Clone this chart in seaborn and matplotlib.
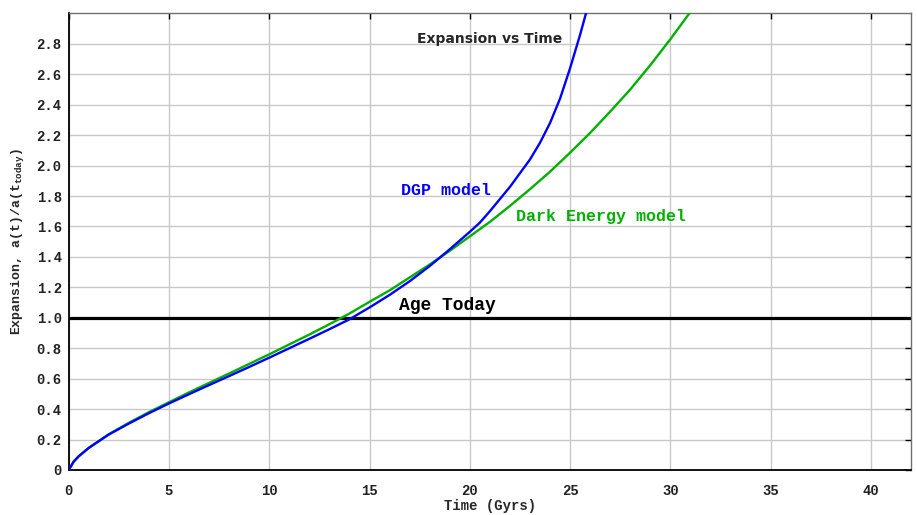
import matplotlib
matplotlib.use("Agg")
import matplotlib.pyplot as plt
import seaborn as sns
import pandas as pd

# values
t_dgp = [0, 0.25, 0.5, 1, 2, 3, 4, 5, 6, 7, 8, 9, 10, 11, 12, 13, 14, 15, 16,
         17, 18, 19, 20, 20.5, 21, 21.5, 22, 22.5, 23, 23.5, 24, 24.5, 25,
         25.5, 26]
a_dgp = [0, 0.055, 0.09, 0.145, 0.233, 0.305, 0.373, 0.437, 0.498, 0.558,
         0.617, 0.677, 0.738, 0.80, 0.862, 0.925, 0.99, 1.068, 1.15, 1.24,
         1.34, 1.45, 1.565, 1.625, 1.70, 1.78, 1.86, 1.95, 2.04, 2.15, 2.28,
         2.44, 2.64, 2.86, 3.1]

t_de = [0, 0.25, 0.5, 1, 2, 3, 4, 5, 6, 7, 8, 9, 10, 11, 12, 13, 14, 15, 16,
        17, 18, 19, 20, 21, 22, 23, 24, 25, 26, 27, 28, 29, 30, 31]
a_de = [0, 0.055, 0.09, 0.145, 0.235, 0.31, 0.38, 0.445, 0.51, 0.572, 0.634,
        0.697, 0.76, 0.825, 0.89, 0.958, 1.028, 1.105, 1.18, 1.265, 1.35,
        1.44, 1.535, 1.63, 1.735, 1.845, 1.96, 2.085, 2.215, 2.355, 2.50,
        2.66, 2.83, 3.01]

age_today = 1.0

x_ticks = [0, 5, 10, 15, 20, 25, 30, 35, 40]
y_ticks = [0, 0.2, 0.4, 0.6, 0.8, 1.0, 1.2, 1.4, 1.6, 1.8, 2.0, 2.2, 2.4, 2.6, 2.8]
y_tick_labels = ["0", "0.2", "0.4", "0.6", "0.8", "1.0", "1.2", "1.4", "1.6",
                 "1.8", "2.0", "2.2", "2.4", "2.6", "2.8"]

sns.set_style("whitegrid")
mono = "Liberation Mono"
plt.rcParams["mathtext.fontset"] = "custom"
plt.rcParams["mathtext.rm"] = "Liberation Mono:bold"
plt.rcParams["mathtext.it"] = "Liberation Mono:bold"

blue = "#0000ff"
green = "#00b000"

df_dgp = pd.DataFrame({"t": t_dgp, "a": a_dgp})
df_de = pd.DataFrame({"t": t_de, "a": a_de})

fig = plt.figure(figsize=(9.17, 5.15), dpi=100)
ax = fig.add_axes([0.0749, 0.0874, 0.9186, 0.8866])

ax.axhline(age_today, color="black", lw=2.3, zorder=2)
sns.lineplot(data=df_de, x="t", y="a", ax=ax, color=green, lw=1.7, zorder=3)
sns.lineplot(data=df_dgp, x="t", y="a", ax=ax, color=blue, lw=1.7, zorder=4)

ax.set_xlim(0, 42)
ax.set_ylim(0, 3.0)
ax.set_xticks(x_ticks)
ax.set_yticks(y_ticks)
ax.set_yticklabels(y_tick_labels)

ax.grid(True, color="#c8c8c8", lw=1)
for side in ["left", "bottom"]:
    ax.spines[side].set_color("black")
    ax.spines[side].set_linewidth(1.3)
for side in ["top", "right"]:
    ax.spines[side].set_color("#707070")
    ax.spines[side].set_linewidth(1.0)

ax.tick_params(direction="in", length=4, width=1, top=True, right=True,
               colors="black", labelsize=10)
ax.tick_params(axis="x", pad=10)
ax.tick_params(axis="y", pad=5)
for lab in ax.get_xticklabels() + ax.get_yticklabels():
    lab.set_fontfamily(mono)
    lab.set_fontweight("bold")
    lab.set_color("#222222")

ax.set_xlabel("Time (Gyrs)", fontfamily=mono, fontweight="bold",
              fontsize=10, labelpad=1)
ax.set_ylabel(r"Expansion, a(t)/a(t$_{\mathrm{today}}$)", fontfamily=mono,
              fontweight="bold", fontsize=9.5, labelpad=8)

ax.text(20.97, 2.83, "Expansion vs Time", ha="center", va="center",
        fontsize=10, fontweight="bold", fontfamily="DejaVu Sans")
ax.text(16.55, 1.835, "DGP model", color=blue, ha="left", va="center",
        fontsize=12, fontweight="bold", fontfamily=mono)
ax.text(22.32, 1.665, "Dark Energy model", color=green, ha="left",
        va="center", fontsize=12, fontweight="bold", fontfamily=mono)
ax.text(16.45, 1.08, "Age Today", color="black", ha="left", va="center",
        fontsize=13, fontweight="bold", fontfamily=mono)

fig.savefig("out.png", dpi=100)
